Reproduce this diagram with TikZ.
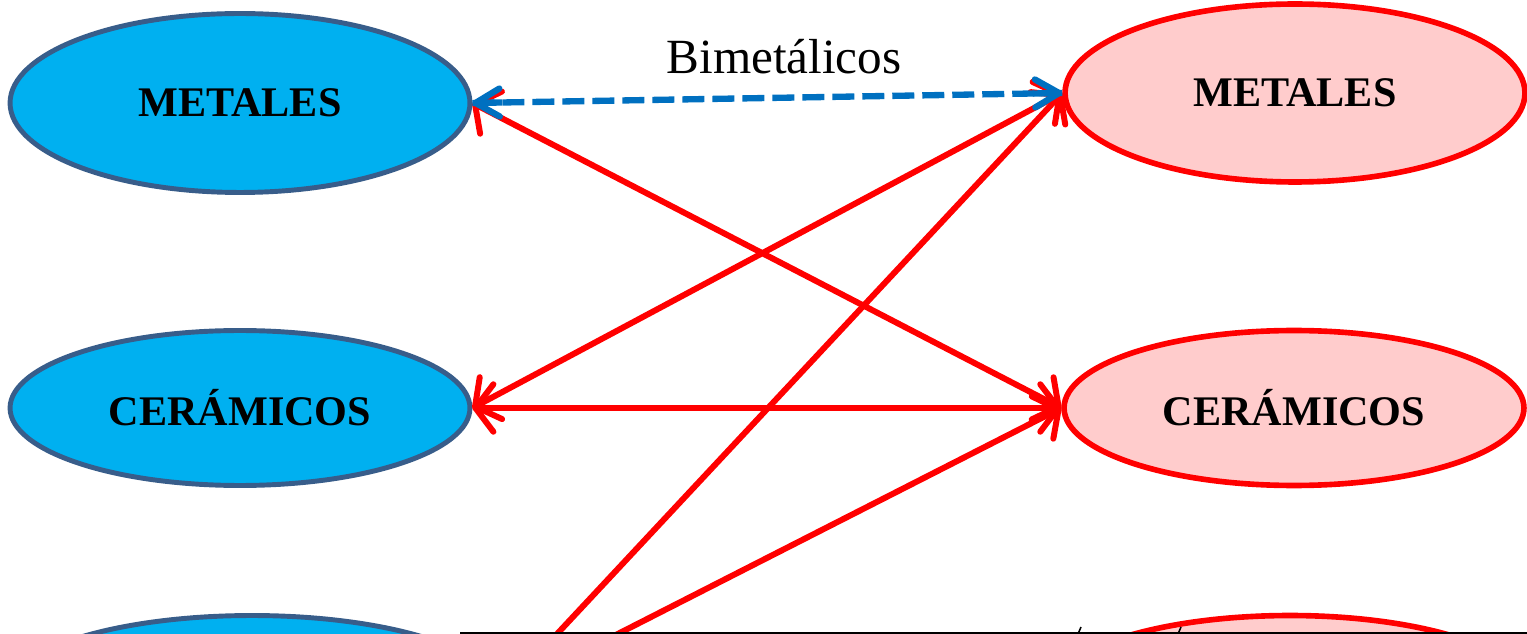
\documentclass[tikz,border=0pt]{standalone}
\usepackage{fontspec}
\setmainfont{Liberation Serif}
\usetikzlibrary{arrows.meta,shapes.geometric,calc}
\definecolor{matBlue}{RGB}{0,176,240}
\definecolor{matEdge}{RGB}{56,93,138}
\definecolor{matPink}{RGB}{255,204,204}
\definecolor{matRed}{RGB}{255,0,0}
\definecolor{bondBlue}{RGB}{0,112,192}
\tikzset{
  barb/.tip={Straight Barb[length=0.36cm,width=0.95cm,round]},
  bbarb/.tip={Straight Barb[length=0.48cm,width=0.56cm,round]},
  izq/.style={ellipse,draw=matEdge,fill=matBlue,line width=2.8pt,inner sep=0pt,
              font=\bfseries\fontsize{24}{24}\selectfont},
  der/.style={ellipse,draw=matRed,fill=matPink,line width=3.2pt,inner sep=0pt,
              font=\bfseries\fontsize{24}{24}\selectfont},
  enlace/.style={draw=matRed,line width=3.4pt,line cap=round,barb-barb},
  haz/.style={draw=matRed,line width=3.4pt,line cap=round,-barb},
  bimet/.style={draw=bondBlue,line width=3.6pt}
}

\begin{document}
\begin{tikzpicture}[x=0.02cm,y=-0.02cm]
\useasboundingbox (0,0) rectangle (1527,634);
\clip (0,0) rectangle (1527,634);
% left column
\node[izq,minimum width=9.2cm,minimum height=3.58cm] (lm) at (240,103) {METALES};
\node[izq,minimum width=9.2cm,minimum height=3.1cm] (lc) at (240,408) {CERÁMICOS};
\node[izq,minimum width=9.9cm,minimum height=3.1cm] (lp) at (252,693) {};
% right column
\node[der,minimum width=9.2cm,minimum height=3.56cm] (rm) at (1295,93) {METALES};
\node[der,minimum width=9.2cm,minimum height=3.1cm] (rc) at (1294,408) {CERÁMICOS};
\node[der,minimum width=9.6cm,minimum height=3.1cm] (rp) at (1290,693) {};
% uniones
\draw[enlace] (lm.east) -- (rc.west);
\draw[enlace] (lc.east) -- (rm.west);
\draw[enlace] (lc.east) -- (rc.west);
\draw[haz] (lp.east) -- (rm.west);
\draw[haz] (lp.east) -- (rc.west);
\draw[bimet,dash pattern=on 0.44cm off 0.16cm] (lm.east) -- (rm.west);
\draw[bimet,-bbarb] ($(lm.east)!0.05!(rm.west)$) -- (lm.east);
\draw[bimet,-bbarb] ($(rm.west)!0.05!(lm.east)$) -- (rm.west);
\node[font=\fontsize{28}{28}\selectfont] (bim) at (784,57) {Bimetálicos};
% borde inferior
\draw[line width=0.8pt] (460,633) -- (1527,633);
\draw[line width=0.9pt] (1078,634) -- (1081,627);
\draw[line width=0.9pt] (1178,634) -- (1181,627);
\end{tikzpicture}
\end{document}
